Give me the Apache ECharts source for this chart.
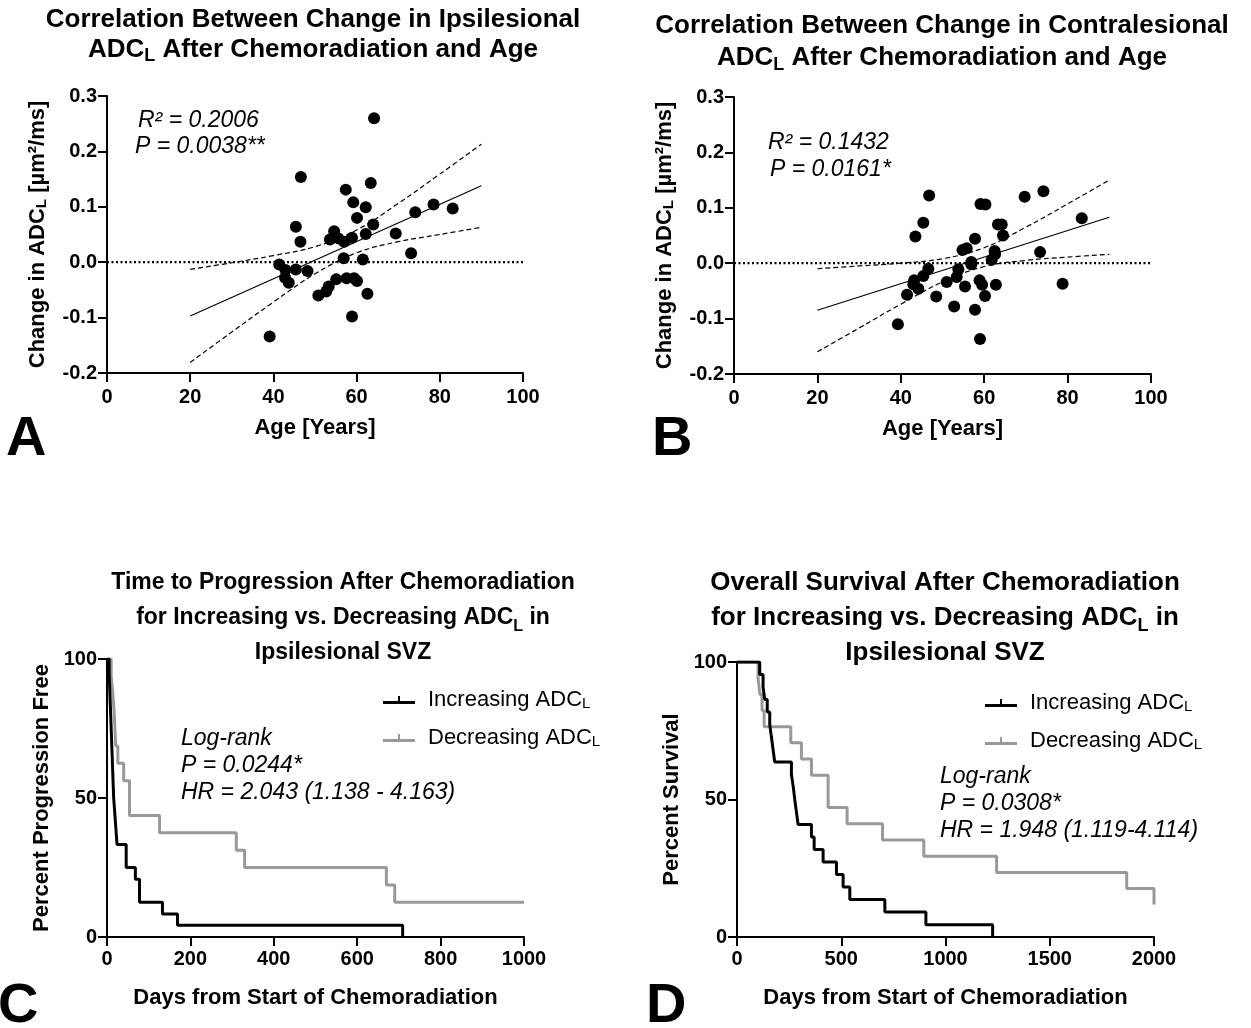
<!DOCTYPE html>
<html>
<head>
<meta charset="utf-8">
<script src="https://cdn.jsdelivr.net/npm/echarts@6/dist/echarts.min.js"></script>
<style>
html,body{margin:0;padding:0;background:#fff;}
#c{width:1251px;height:1028px;}
</style>
</head>
<body>
<div id="c"></div>
<script>
// ---------- Panel A: ipsilesional ADC change vs age ----------
const ageA = [64.2, 46.6, 57.4, 63.4, 59.2, 62.2, 60.1, 74.1, 78.5, 83.1, 45.4, 46.5, 54.6, 53.6, 55.6, 57.0, 58.9, 64.0, 62.2, 69.4, 73.1, 56.9, 61.5, 41.4, 42.9, 45.4, 48.2, 42.8, 43.7, 55.1, 57.6, 59.4, 60.1, 53.3, 52.7, 50.8, 62.6, 58.9, 39.1];
const adcA = [0.260, 0.154, 0.131, 0.143, 0.108, 0.099, 0.080, 0.090, 0.104, 0.097, 0.064, 0.037, 0.056, 0.041, 0.043, 0.037, 0.044, 0.068, 0.051, 0.052, 0.016, 0.007, 0.005, -0.004, -0.014, -0.013, -0.016, -0.028, -0.037, -0.031, -0.029, -0.029, -0.034, -0.044, -0.053, -0.060, -0.057, -0.098, -0.134];
const fitX = [20, 90];
const fitA = [-0.097, 0.138];
const bandX = [20, 30, 40, 50, 60, 70, 80, 90];
const upA = [-0.013, -0.001, 0.012, 0.028, 0.058, 0.106, 0.159, 0.213];
const loA = [-0.181, -0.126, -0.072, -0.021, 0.017, 0.037, 0.050, 0.063];

// ---------- Panel B: contralesional ADC change vs age ----------
const ageB = [46.8, 45.4, 43.5, 59.1, 60.3, 69.7, 74.2, 83.4, 63.3, 64.2, 64.5, 57.8, 54.8, 55.8, 73.4, 62.5, 62.6, 61.8, 56.9, 56.9, 46.6, 53.8, 45.4, 43.2, 43.0, 44.2, 41.5, 53.4, 51.0, 55.4, 58.9, 59.5, 62.8, 78.8, 60.2, 48.5, 52.8, 57.8, 39.3, 59.0];
const adcB = [0.122, 0.073, 0.048, 0.107, 0.106, 0.120, 0.130, 0.081, 0.070, 0.070, 0.050, 0.044, 0.024, 0.027, 0.020, 0.022, 0.016, 0.006, 0.002, -0.002, -0.010, -0.011, -0.023, -0.031, -0.038, -0.046, -0.057, -0.025, -0.034, -0.042, -0.031, -0.039, -0.039, -0.037, -0.059, -0.060, -0.078, -0.084, -0.110, -0.137];
const fitB = [-0.085, 0.083];
const upB = [-0.010, -0.005, 0.000, 0.008, 0.028, 0.065, 0.107, 0.150];
const loB = [-0.160, -0.117, -0.074, -0.034, -0.006, 0.005, 0.011, 0.016];

// ---------- Panel C: time to progression ----------
const tC_inc = [0, 5, 6, 7, 8, 9, 10, 11, 12, 13, 14, 15, 16, 18, 20, 22, 24, 46, 68, 78, 133, 169, 709];
const sC_inc = [100, 95.8, 91.7, 87.5, 83.3, 79.2, 75, 70.8, 66.7, 62.5, 58.3, 54.2, 50, 45.8, 41.7, 37.5, 33.3, 25, 20.8, 12.5, 8.3, 4.2, 0];
const tC_dec = [0, 10, 14, 17, 19, 21, 26, 40, 54, 126, 310, 330, 670, 690, 1000];
const sC_dec = [100, 93.75, 87.5, 81.25, 75, 68.75, 62.5, 56.25, 43.75, 37.5, 31.25, 25, 18.75, 12.5, 12.5];

// ---------- Panel D: overall survival ----------
const tD_inc = [0, 109, 125, 133, 145, 157, 165, 173, 181, 261, 270, 277, 285, 293, 357, 370, 413, 477, 509, 541, 709, 906, 1226];
const sD_inc = [100, 95.45, 90.9, 86.4, 81.8, 77.3, 72.7, 68.2, 63.6, 59.1, 54.5, 50, 45.5, 40.9, 36.4, 31.8, 27.3, 22.7, 18.2, 13.6, 9.1, 4.5, 0];
const tD_dec = [0, 101, 110, 120, 130, 258, 309, 357, 437, 528, 698, 896, 1245, 1869, 2000];
const sD_dec = [100, 94.1, 88.2, 82.4, 76.5, 70.6, 64.7, 58.8, 47.1, 41.2, 35.3, 29.4, 23.5, 17.6, 11.8];

const legendNames = ['Increasing ADC', 'Decreasing ADC'];

// ---------- build ----------
const FF = '"Liberation Sans", Arial, Helvetica, sans-serif';
const zip = (a, b) => a.map((v, i) => [v, b[i]]);
const BLACK = '#000000', GREY = '#999999';

function xAx(gi, min, max, interval, name, gap, margin) {
  return {
    type: 'value', gridIndex: gi, min, max, interval,
    name, nameLocation: 'middle', nameGap: gap,
    nameTextStyle: { color: '#000', fontSize: 22, fontWeight: 'bold', fontFamily: FF },
    axisLine: { onZero: false, lineStyle: { color: '#000', width: 2 } },
    axisTick: { length: 9, lineStyle: { color: '#000', width: 2 } },
    axisLabel: { color: '#000', fontSize: 20, fontWeight: 'bold', fontFamily: FF, margin, formatter: v => String(v) },
    splitLine: { show: false }
  };
}
const subRich = {
  n: { fontSize: 22, fontWeight: 'bold', fontFamily: FF, color: '#000' },
  s: { fontSize: 15, fontWeight: 'bold', fontFamily: FF, color: '#000', verticalAlign: 'bottom', lineHeight: 9 }
};
function yAx(gi, min, max, interval, name, gap, fmt) {
  return {
    type: 'value', gridIndex: gi, min, max, interval,
    name, nameLocation: 'middle', nameGap: gap,
    nameTextStyle: { color: '#000', fontSize: 22, fontWeight: 'bold', fontFamily: FF, rich: subRich },
    axisLine: { onZero: false, lineStyle: { color: '#000', width: 2 } },
    axisTick: { length: 9, lineStyle: { color: '#000', width: 2 } },
    axisLabel: { color: '#000', fontSize: 20, fontWeight: 'bold', fontFamily: FF, margin: 10, formatter: fmt || (v => String(v)) },
    splitLine: { show: false }
  };
}
const fmt1 = v => (Math.round(v * 10) / 10).toFixed(1);

const scatterSeries = (i, xs, ys) => ({
  type: 'scatter', xAxisIndex: i, yAxisIndex: i, data: zip(xs, ys),
  symbolSize: 12, itemStyle: { color: '#000', opacity: 1 }, z: 5, silent: true
});
const lineSeries = (i, xs, ys, type, width, smooth) => ({
  type: 'line', xAxisIndex: i, yAxisIndex: i, data: zip(xs, ys),
  showSymbol: false, symbol: 'none', smooth: smooth || false,
  lineStyle: { color: '#000', width, type }, z: 3, silent: true
});
const kmSeries = (i, name, ts, ss, color) => ({
  type: 'line', name, xAxisIndex: i, yAxisIndex: i, data: zip(ts, ss),
  step: 'end', showSymbol: false, symbol: 'none',
  lineStyle: { color, width: 3 }, itemStyle: { color },
  z: color === BLACK ? 4 : 3, silent: true
});

const titleRich = (fs, ss) => ({
  b: { fontSize: fs, fontWeight: 'bold', fontFamily: FF, fill: '#000' },
  s: { fontSize: ss, fontWeight: 'bold', fontFamily: FF, fill: '#000', verticalAlign: 'bottom', lineHeight: Math.round(ss * 0.66) }
});
function titleText(x, y, lines, lh, fs) {
  fs = fs || 26;
  return {
    type: 'text', x, y, silent: true,
    style: {
      text: lines.join('\n'), rich: titleRich(fs, Math.round(fs * 0.7)),
      fontSize: fs, fontWeight: 'bold', fontFamily: FF, lineHeight: lh,
      align: 'center', verticalAlign: 'top', fill: '#000'
    }
  };
}
function note(x, y, lines, lh) {
  return {
    type: 'text', x, y, silent: true,
    style: {
      text: lines.join('\n'), font: 'italic 23px ' + FF, lineHeight: lh,
      align: 'left', verticalAlign: 'top', fill: '#000'
    }
  };
}
function letter(x, y, t) {
  return {
    type: 'text', x, y, silent: true,
    style: { text: t, font: 'bold 56px ' + FF, align: 'left', verticalAlign: 'top', fill: '#000' }
  };
}

const legendIcon = 'path://M0,5 L32,5 L32,8 L0,8 Z M15,0 L17,0 L17,5 L15,5 Z';
function legendAt(left, top) {
  return {
    data: legendNames, orient: 'vertical', left, top, itemGap: 16,
    itemWidth: 32, itemHeight: 8, icon: legendIcon, selectedMode: false,
    formatter: n => n + '{s|L}',
    textStyle: {
      fontSize: 22, fontFamily: FF, color: '#000', padding: [0, 0, 0, 8],
      rich: { s: { fontSize: 15, fontFamily: FF, color: '#000', verticalAlign: 'bottom', lineHeight: 9 } }
    }
  };
}

const option = {
  backgroundColor: '#fff',
  animation: false,
  grid: [
    { left: 107, top: 96, width: 416, height: 277 },
    { left: 734, top: 97, width: 417, height: 277 },
    { left: 107, top: 659, width: 417, height: 278 },
    { left: 737, top: 662, width: 417, height: 275 }
  ],
  xAxis: [
    xAx(0, 0, 100, 20, 'Age [Years]', 44, 14),
    xAx(1, 0, 100, 20, 'Age [Years]', 44, 14),
    xAx(2, 0, 1000, 200, 'Days from Start of Chemoradiation', 50, 12),
    xAx(3, 0, 2000, 500, 'Days from Start of Chemoradiation', 50, 12)
  ],
  yAxis: [
    yAx(0, -0.2, 0.3, 0.1, '{n|Change in ADC}{s|L}{n| [µm²/ms]}', 58, fmt1),
    yAx(1, -0.2, 0.3, 0.1, '{n|Change in ADC}{s|L}{n| [µm²/ms]}', 58, fmt1),
    yAx(2, 0, 100, 50, 'Percent Progression Free', 54),
    yAx(3, 0, 100, 50, 'Percent Survival', 54)
  ],
  legend: [legendAt(378, 684), legendAt(980, 687)],
  series: [
    lineSeries(0, [0, 100], [0, 0], [2, 2.5], 2.2),
    lineSeries(0, fitX, fitA, 'solid', 1.2),
    lineSeries(0, bandX, upA, [5, 3], 1.2, 0.4),
    lineSeries(0, bandX, loA, [5, 3], 1.2, 0.4),
    scatterSeries(0, ageA, adcA),
    lineSeries(1, [0, 100], [0, 0], [2, 2.5], 2.2),
    lineSeries(1, fitX, fitB, 'solid', 1.2),
    lineSeries(1, bandX, upB, [5, 3], 1.2, 0.4),
    lineSeries(1, bandX, loB, [5, 3], 1.2, 0.4),
    scatterSeries(1, ageB, adcB),
    kmSeries(2, legendNames[0], tC_inc, sC_inc, BLACK),
    kmSeries(2, legendNames[1], tC_dec, sC_dec, GREY),
    kmSeries(3, legendNames[0], tD_inc, sD_inc, BLACK),
    kmSeries(3, legendNames[1], tD_dec, sD_dec, GREY)
  ],
  graphic: [
    titleText(313, 5, ['{b|Correlation Between Change in Ipsilesional}', '{b|ADC}{s|L}{b| After Chemoradiation and Age}'], 30),
    titleText(942, 10, ['{b|Correlation Between Change in Contralesional}', '{b|ADC}{s|L}{b| After Chemoradiation and Age}'], 32),
    titleText(343, 565, ['{b|Time to Progression After Chemoradiation}', '{b|for Increasing vs. Decreasing ADC}{s|L}{b| in}', '{b|Ipsilesional SVZ}'], 35, 23),
    titleText(945, 565, ['{b|Overall Survival After Chemoradiation}', '{b|for Increasing vs. Decreasing ADC}{s|L}{b| in}', '{b|Ipsilesional SVZ}'], 35),
    note(138, 107, ['R² = 0.2006'], 27),
    note(135, 133, ['P = 0.0038**'], 27),
    note(768, 129, ['R² = 0.1432'], 27),
    note(770, 156, ['P = 0.0161*'], 27),
    note(181, 725, ['Log-rank', 'P = 0.0244*', 'HR = 2.043 (1.138 - 4.163)'], 27),
    note(940, 763, ['Log-rank', 'P = 0.0308*', 'HR = 1.948 (1.119-4.114)'], 27),
    letter(6, 412, 'A'),
    letter(652, 412, 'B'),
    letter(-2, 979, 'C'),
    letter(646, 979, 'D')
  ]
};
const chart = echarts.init(document.getElementById('c'), null, { renderer: 'canvas' });
chart.setOption(option);
</script>
</body>
</html>
